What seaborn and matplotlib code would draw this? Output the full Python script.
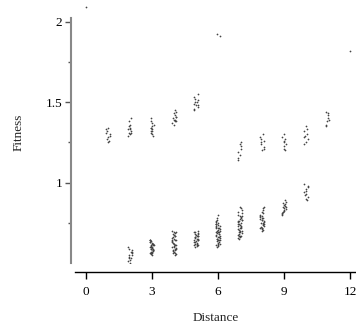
import numpy as np
import pandas as pd
import matplotlib.pyplot as plt
import seaborn as sns

# fitness values, grouped by distance
d0 = [2.09]
d1 = [1.25, 1.26, 1.27, 1.28, 1.29, 1.30, 1.31, 1.32, 1.33, 1.34]
d2 = [1.29, 1.30, 1.31, 1.31, 1.32, 1.33, 1.33, 1.34, 1.35, 1.36, 1.38, 1.40,
      0.50, 0.51, 0.52, 0.53, 0.53, 0.54, 0.55, 0.55, 0.56, 0.57, 0.57, 0.58,
      0.59, 0.60]
d3 = [1.29, 1.30, 1.31, 1.32, 1.32, 1.33, 1.34, 1.34, 1.35, 1.36, 1.37, 1.38,
      1.40,
      0.55, 0.555, 0.56, 0.56, 0.565, 0.57, 0.57, 0.575, 0.58, 0.58, 0.58,
      0.585, 0.59, 0.59, 0.595, 0.60, 0.60, 0.60, 0.605, 0.61, 0.61, 0.615,
      0.62, 0.62, 0.62, 0.625, 0.63, 0.63, 0.635, 0.64, 0.64, 0.645]
d4 = [1.36, 1.37, 1.38, 1.385, 1.39, 1.39, 1.40, 1.41, 1.41, 1.42, 1.43,
      1.44, 1.45,
      0.55, 0.555, 0.56, 0.565, 0.57, 0.575, 0.58, 0.58, 0.585, 0.59, 0.595,
      0.60, 0.60, 0.605, 0.61, 0.615, 0.62, 0.62, 0.625, 0.63, 0.635, 0.64,
      0.64, 0.645, 0.65, 0.655, 0.66, 0.665, 0.67, 0.675, 0.68, 0.685, 0.69,
      0.695, 0.70]
d5 = [1.45, 1.46, 1.47, 1.48, 1.48, 1.49, 1.50, 1.50, 1.51, 1.52, 1.53, 1.55,
      0.60, 0.605, 0.61, 0.61, 0.615, 0.62, 0.62, 0.625, 0.63, 0.63, 0.635,
      0.64, 0.64, 0.645, 0.65, 0.65, 0.655, 0.66, 0.66, 0.665, 0.67, 0.67,
      0.675, 0.68, 0.68, 0.685, 0.69, 0.695, 0.70]
d6 = [1.91, 1.92,
      0.60, 0.605, 0.61, 0.615, 0.62, 0.625, 0.63, 0.635, 0.64, 0.645, 0.65,
      0.655, 0.66, 0.665, 0.67, 0.675, 0.68, 0.685, 0.69, 0.695, 0.70, 0.705,
      0.71, 0.715, 0.72, 0.725, 0.73, 0.735, 0.74, 0.745, 0.75, 0.755, 0.76,
      0.62, 0.64, 0.66, 0.68, 0.70, 0.72, 0.74, 0.65, 0.69, 0.73, 0.77, 0.78,
      0.80]
d7 = [1.14, 1.15, 1.17, 1.19, 1.21, 1.23, 1.24, 1.25,
      0.65, 0.655, 0.66, 0.665, 0.67, 0.675, 0.68, 0.685, 0.69, 0.695, 0.70,
      0.705, 0.71, 0.715, 0.72, 0.725, 0.73, 0.735, 0.74, 0.745, 0.75, 0.755,
      0.76, 0.765, 0.77, 0.775, 0.78, 0.785, 0.79, 0.795, 0.80, 0.81, 0.82,
      0.83, 0.84, 0.85, 0.67, 0.70, 0.73, 0.76]
d8 = [1.20, 1.21, 1.22, 1.24, 1.25, 1.26, 1.27, 1.28, 1.30,
      0.70, 0.705, 0.71, 0.715, 0.72, 0.725, 0.73, 0.735, 0.74, 0.745, 0.75,
      0.755, 0.76, 0.765, 0.77, 0.775, 0.78, 0.785, 0.79, 0.795, 0.80, 0.81,
      0.82, 0.83, 0.84, 0.85, 0.72, 0.75, 0.78]
d9 = [1.20, 1.21, 1.23, 1.24, 1.25, 1.26, 1.27, 1.28, 1.30,
      0.80, 0.805, 0.81, 0.815, 0.82, 0.825, 0.83, 0.835, 0.84, 0.845, 0.85,
      0.855, 0.86, 0.865, 0.87, 0.88, 0.89]
d10 = [1.24, 1.25, 1.27, 1.28, 1.29, 1.30, 1.32, 1.33, 1.35,
       0.89, 0.90, 0.91, 0.92, 0.93, 0.94, 0.95, 0.96, 0.97, 0.98, 0.99]
d11 = [1.35, 1.36, 1.38, 1.39, 1.40, 1.42, 1.43, 1.44]
d12 = [1.82]

groups = [d0, d1, d2, d3, d4, d5, d6, d7, d8, d9, d10, d11, d12]
x_ticks = [0, 3, 6, 9, 12]

rows = []
for dist, vals in enumerate(groups):
    for v in vals:
        rows.append((dist, v))
df = pd.DataFrame(rows, columns=["Distance", "Fitness"])

sns.set_style("ticks")
plt.rcParams["font.family"] = ["Liberation Serif", "DejaVu Serif"]

np.random.seed(3)
fig = plt.figure(figsize=(3.56, 3.3), dpi=100)
ax = fig.add_axes([0.2107, 0.203, 0.791, 0.790])
sns.stripplot(data=df, x="Distance", y="Fitness", native_scale=True,
              jitter=0.11, color="#444444", size=1.25, linewidth=0, ax=ax)

ax.set_xlim(-0.5, 12.3)
ax.set_ylim(0.5, 2.12)
ax.set_xticks(x_ticks)
ax.set_xticklabels([str(t) for t in x_ticks])
ax.set_yticks([1, 1.5, 2])
ax.set_yticklabels(["1", "1.5", "2"])
ax.set_yticks([0.75, 1.25, 1.75], minor=True)

for s in ["top", "right"]:
    ax.spines[s].set_visible(False)
ax.spines["left"].set_position(("outward", 3))
ax.spines["left"].set_bounds(0.5, 2.025)
ax.spines["left"].set_color("#888888")
ax.spines["left"].set_linewidth(1.5)
ax.spines["bottom"].set_position(("outward", 6.5))
ax.spines["bottom"].set_color("black")
ax.spines["bottom"].set_linewidth(1.0)

ax.tick_params(axis="x", which="major", length=5, width=1, color="black",
               labelsize=9.5, pad=5, labelcolor="black")
ax.tick_params(axis="y", which="major", length=4.5, width=1, color="#555555",
               labelsize=9.5, pad=1.5, labelcolor="black")
ax.tick_params(axis="y", which="minor", length=2.5, width=1, color="#555555")

ax.set_xlabel("Distance", fontsize=9.5, labelpad=10)
ax.set_ylabel("Fitness", fontsize=9.5, labelpad=15)

fig.savefig("out.png", dpi=100)
